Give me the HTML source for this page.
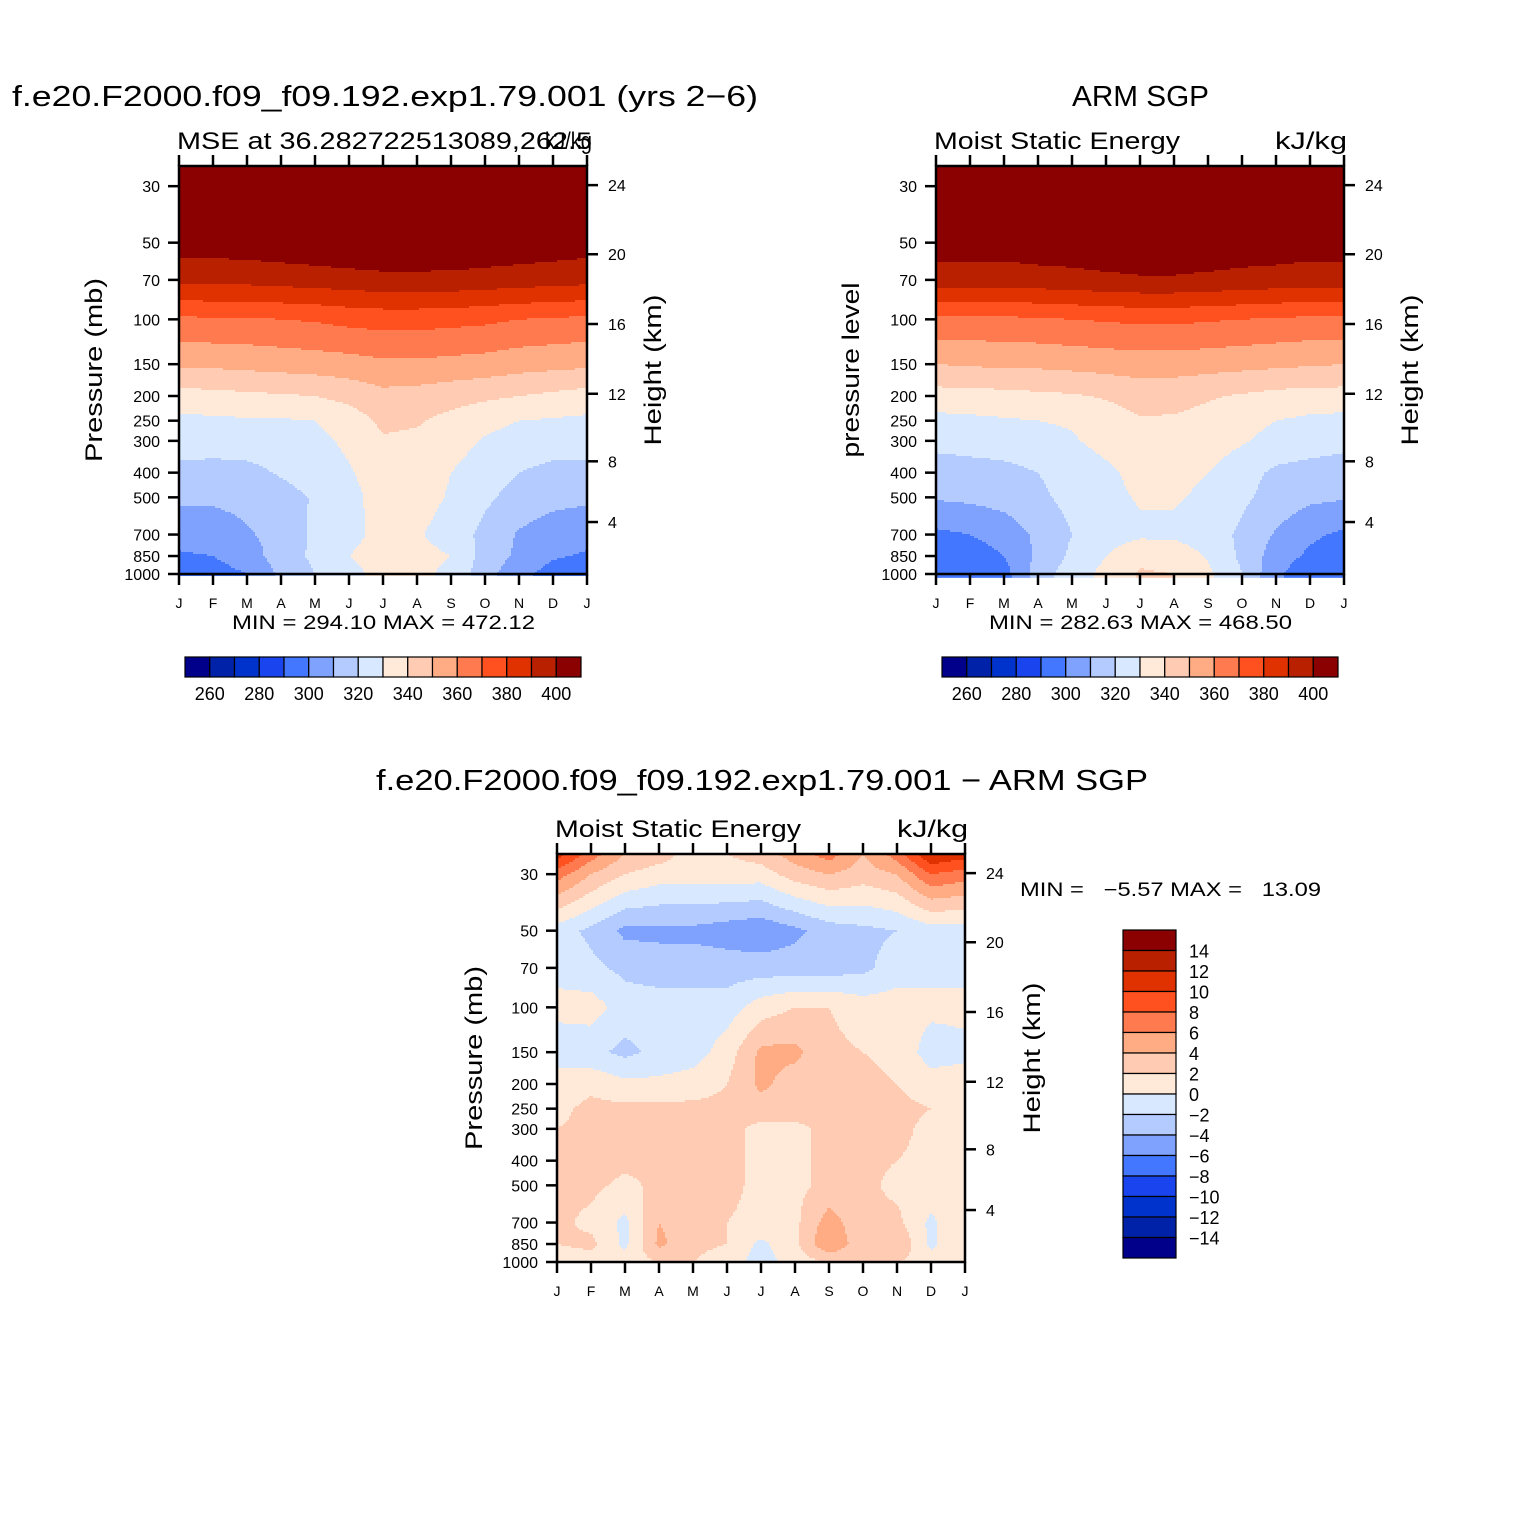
<!DOCTYPE html>
<html><head><meta charset="utf-8"><style>
html,body{margin:0;padding:0;background:#fff;}
svg text{font-family:"Liberation Sans",sans-serif;fill:#000;}
</style></head><body>
<svg id="chart" width="1524" height="1524" viewBox="0 0 1524 1524" xmlns="http://www.w3.org/2000/svg">
<rect width="1524" height="1524" fill="#fff"/>
<g id="panels"></g>
<text x="12" y="106" font-size="29" textLength="746" lengthAdjust="spacingAndGlyphs">f.e20.F2000.f09_f09.192.exp1.79.001 (yrs 2−6)</text>
<text x="177" y="149" font-size="24" textLength="415" lengthAdjust="spacingAndGlyphs">MSE at 36.282722513089,262.5</text>
<text x="545" y="149" font-size="24" textLength="47" lengthAdjust="spacingAndGlyphs">kJ/kg</text>
<text x="1072" y="106" font-size="29" textLength="137" lengthAdjust="spacingAndGlyphs">ARM SGP</text>
<text x="934" y="149" font-size="24" textLength="246" lengthAdjust="spacingAndGlyphs">Moist Static Energy</text>
<text x="1275" y="149" font-size="24" textLength="72" lengthAdjust="spacingAndGlyphs">kJ/kg</text>
<text x="376" y="790" font-size="29" textLength="772" lengthAdjust="spacingAndGlyphs">f.e20.F2000.f09_f09.192.exp1.79.001 − ARM SGP</text>
<text x="555" y="837" font-size="24" textLength="246" lengthAdjust="spacingAndGlyphs">Moist Static Energy</text>
<text x="897" y="837" font-size="24" textLength="71" lengthAdjust="spacingAndGlyphs">kJ/kg</text>
<text transform="translate(102,370) rotate(-90)" font-size="24" text-anchor="middle" textLength="184" lengthAdjust="spacingAndGlyphs">Pressure (mb)</text>
<text transform="translate(859,370) rotate(-90)" font-size="24" text-anchor="middle" textLength="175" lengthAdjust="spacingAndGlyphs">pressure level</text>
<text transform="translate(482,1058) rotate(-90)" font-size="24" text-anchor="middle" textLength="184" lengthAdjust="spacingAndGlyphs">Pressure (mb)</text>
<text transform="translate(661,370) rotate(-90)" font-size="24" text-anchor="middle" textLength="151" lengthAdjust="spacingAndGlyphs">Height (km)</text>
<text transform="translate(1418,370) rotate(-90)" font-size="24" text-anchor="middle" textLength="151" lengthAdjust="spacingAndGlyphs">Height (km)</text>
<text transform="translate(1040,1058) rotate(-90)" font-size="24" text-anchor="middle" textLength="151" lengthAdjust="spacingAndGlyphs">Height (km)</text>
<text x="232" y="629" font-size="19" textLength="303" lengthAdjust="spacingAndGlyphs">MIN = 294.10 MAX = 472.12</text>
<text x="989" y="629" font-size="19" textLength="303" lengthAdjust="spacingAndGlyphs">MIN = 282.63 MAX = 468.50</text>
<text x="1020" y="896" font-size="19" xml:space="preserve" textLength="301" lengthAdjust="spacingAndGlyphs">MIN =   −5.57 MAX =   13.09</text>
</svg>
<script>
const months = ["J","F","M","A","M","J","J","A","S","O","N","D","J"];
const plevs = [25,30,50,70,100,150,200,250,300,400,500,700,850,1000];
const pTicks = [30,50,70,100,150,200,250,300,400,500,700,850,1000];
const hTicks = [4,8,12,16,20,24];
const colors = ["#00008b","#0022a8","#0033cc","#1a44ee","#4477ff","#7fa2ff","#b3cbff","#d7e8ff","#ffe9d9","#ffcbb2","#ffab84","#ff7a4e","#ff5020","#e03100","#b82000","#8b0000"];
const absLevels = [260,270,280,290,300,310,320,330,340,350,360,370,380,390,400];
const absLabels = [260,280,300,320,340,360,380,400];
const diffLevels = [-14,-12,-10,-8,-6,-4,-2,0,2,4,6,8,10,12,14];
const diffLabels = [14,12,10,8,6,4,2,0,-2,-4,-6,-8,-10,-12,-14];

const modelMSE = [
[440,440,442,444,446,448,450,450,448,446,444,442,440],
[430,430,432,434,436,438,440,440,438,436,434,432,430],
[405,405,406,407,408,409,410,410,409,408,407,406,405],
[393,393,393,394,395,396,397,397,397,396,395,394,393],
[368,369,369,370,371,373,374,374,373,372,370,369,368],
[352,352,353,354,355,356,358,358,357,356,354,353,352],
[336,337,338,339,340,343,347,346,344,342,340,338,336],
[328,328,329,329,330,335,342,341,337,333,330,329,328],
[325,325,325,326,327,332,339,338,334,329,326,325,325],
[317,316,317,321,325,329,335,335,330,325,320,317,317],
[312,312,313,316,321,327,334,334,329,322,316,313,312],
[303,304,309,313,322,328,332,331,326,317,309,305,303],
[299,300,305,315,322,330,333,333,330,316,308,301,299],
[295,296,300,312,320,328,332,332,328,314,303,296,295]];
const obsMSE = [
[440,440,441,442,443,444,445,445,444,443,442,441,440],
[430,430,431,432,433,434,435,435,434,433,432,431,430],
[405,405,405,406,406,407,407,407,407,406,406,405,405],
[395,395,395,396,397,398,399,399,398,397,396,395,395],
[368,368,368,369,370,371,372,372,371,370,369,368,368],
[350,351,352,352,353,354,355,355,354,353,352,351,350],
[336,336,337,338,339,341,344,343,341,339,337,336,336],
[327,328,329,330,331,335,339,339,337,333,330,328,327],
[323,324,325,327,329,333,337,337,335,331,327,325,323],
[315,316,317,320,324,328,333,333,330,324,318,316,315],
[311,312,314,318,323,327,331,331,328,322,316,312,311],
[298,300,304,312,320,325,328,328,325,318,309,302,298],
[293,295,300,312,322,330,338,336,329,318,305,298,293],
[291,292,296,315,325,333,341,340,332,320,302,293,291]];
const diffMSE = [
[11,7,4,3,1,2,3,5,7,4,7,12,11],
[7,4,2,1,1,1,1,3,4,3,4,8,7],
[-1,-2.5,-4.5,-4.5,-4.5,-5,-5.5,-4.5,-3,-2.5,-2,-1,-1],
[-0.5,-1.5,-2.5,-3,-3,-3,-3,-3,-3,-2.5,-1,-0.5,-0.5],
[0.5,1,-1,-1,-1,-1,1,2,2,1,1,0.5,0.5],
[-1,-1.5,-2.5,-1.5,-1,1,4.5,4.5,2.5,2,1.5,-1,-0.5],
[1,1.5,0.5,0.5,1,2,4.5,3,3,2.5,2,1,1],
[1.5,2.5,2.5,2.5,2.5,2.5,3,3,3,3,2.5,2,1.5],
[2,2.5,2.5,2.5,2.5,2.5,1.5,1.5,2.5,3,2.5,1.5,1],
[2.5,3,2.5,2.5,2.5,2.5,1.5,1.5,2.5,2.5,2,1.5,1],
[2.5,2.5,1.5,2.5,2.5,2.5,1.5,1.5,2.5,2.5,1.5,1.5,1],
[2.5,1.5,-0.5,4,3,2,1.5,1.5,5,2.5,2.5,-0.5,2],
[2,2.5,-0.5,4.5,2.5,2,-0.5,1.5,6,2.5,4,-0.5,2],
[1,1,1,2,2,1,-1,1,2,2,2,1,1]];

const NS="http://www.w3.org/2000/svg";
const root=document.getElementById('panels');
function el(tag,attrs,parent){const e=document.createElementNS(NS,tag);for(const k in attrs)e.setAttribute(k,attrs[k]);(parent||root).appendChild(e);return e;}
const SC=110.6;
function hToP(z){ if(z<=11) return 1013.25*Math.pow(1-6.5*z/288.15,5.2559); if(z<=20) return 226.3*Math.exp(-(z-11)/6.3416); return 54.75*Math.pow(1+(z-20)/216.65,-34.163);}

function panel(name,x0,y0,data,levels,pbottom){
  const W=408,H=408, yb=y0+H;
  const yOf=p=>yb-SC*Math.log(1000/p);
  const xOf=m=>x0+m*W/12;
  const g=el('g',{});
  
  
  const lnp=plevs.map(p=>Math.log(p));
  const cell=2;
  const yEnd=yOf(pbottom);
  for(let y=y0;y<yEnd;y+=cell){
    const yc=Math.min(y+cell/2,yEnd-0.01);
    const lp=Math.log(1000)-(yb-yc)/SC;
    let k=0; while(k<lnp.length-2 && lp>lnp[k+1]) k++;
    let t=(lp-lnp[k])/(lnp[k+1]-lnp[k]); t=Math.max(0,Math.min(1,t));
    let runStart=x0, runCol=null;
    for(let x=x0;x<=x0+W;x+=cell){
      let col=null;
      if(x<x0+W){
        const m=(x+cell/2-x0)/(W/12); let i=Math.min(11,Math.floor(m)); const u=m-i;
        const v=(1-t)*((1-u)*data[k][i]+u*data[k][i+1])+t*((1-u)*data[k+1][i]+u*data[k+1][i+1]);
        let c=0; while(c<levels.length && v>=levels[c]) c++;
        col=colors[c];
      }
      if(col!==runCol){
        if(runCol){const r=el('rect',{x:runStart,y:y,width:x-runStart+0.6,height:Math.min(cell,yEnd-y)+0.6,fill:runCol},g);
          
          }
        runStart=x; runCol=col;
      }
    }
  }
  const fr=el('rect',{x:x0,y:y0,width:W,height:H,fill:'none',stroke:'#000','stroke-width':2.5},g);
  
  
  months.forEach((mo,i)=>{
    const x=xOf(i);
    el('line',{x1:x,x2:x,y1:y0,y2:y0-11,stroke:'#000','stroke-width':2.5},g);
    el('line',{x1:x,x2:x,y1:yb,y2:yb+11,stroke:'#000','stroke-width':2.5},g);
    const t=el('text',{x:x,y:yb+34,'font-size':14,'text-anchor':'middle'},g); t.textContent=mo;
    
    
  });
  pTicks.forEach(p=>{
    const y=yOf(p);
    el('line',{x1:x0,x2:x0-11,y1:y,y2:y,stroke:'#000','stroke-width':2.5},g);
    const t=el('text',{x:x0-19,y:y+6,'font-size':16,'text-anchor':'end'},g); t.textContent=p;
    
    
  });
  hTicks.forEach(h=>{
    const y=yb-SC*Math.log(1013.25/hToP(h))+3;
    el('line',{x1:x0+W,x2:x0+W+11,y1:y,y2:y,stroke:'#000','stroke-width':2.5},g);
    const t=el('text',{x:x0+W+21,y:y+6,'font-size':16},g); t.textContent=h;
    
    
  });
}
function hbar(name,x0,y0){
  const g=el('g',{});
  
  
  const w=24.75;
  colors.forEach((c,i)=>{const r=el('rect',{x:x0+i*w,y:y0,width:w,height:20,fill:c,stroke:'#000','stroke-width':1.2},g);
    
    });
  absLabels.forEach(v=>{const i=absLevels.indexOf(v)+1;
    const t=el('text',{x:x0+i*w,y:y0+43,'font-size':18,'text-anchor':'middle'},g); t.textContent=v;
    
    });
}
function vbar(name,x0,y0){
  const g=el('g',{});
  
  
  const h=20.5;
  colors.slice().reverse().forEach((c,i)=>{const r=el('rect',{x:x0,y:y0+i*h,width:53,height:h,fill:c,stroke:'#000','stroke-width':1.2},g);
    
    });
  diffLabels.forEach((v,i)=>{const t=el('text',{x:x0+66,y:y0+(i+1)*h+7,'font-size':18},g); t.textContent=(v<0?'−'+(-v):v);
    
    });
}
panel('model',179,166,modelMSE,absLevels,1013);
panel('obs',936,166,obsMSE,absLevels,1030);
panel('diff',557,854,diffMSE,diffLevels,985);
hbar('model-colorbar',185,657);
hbar('obs-colorbar',942,657);
vbar('diff-colorbar',1123,930);
</script>
</body></html>
